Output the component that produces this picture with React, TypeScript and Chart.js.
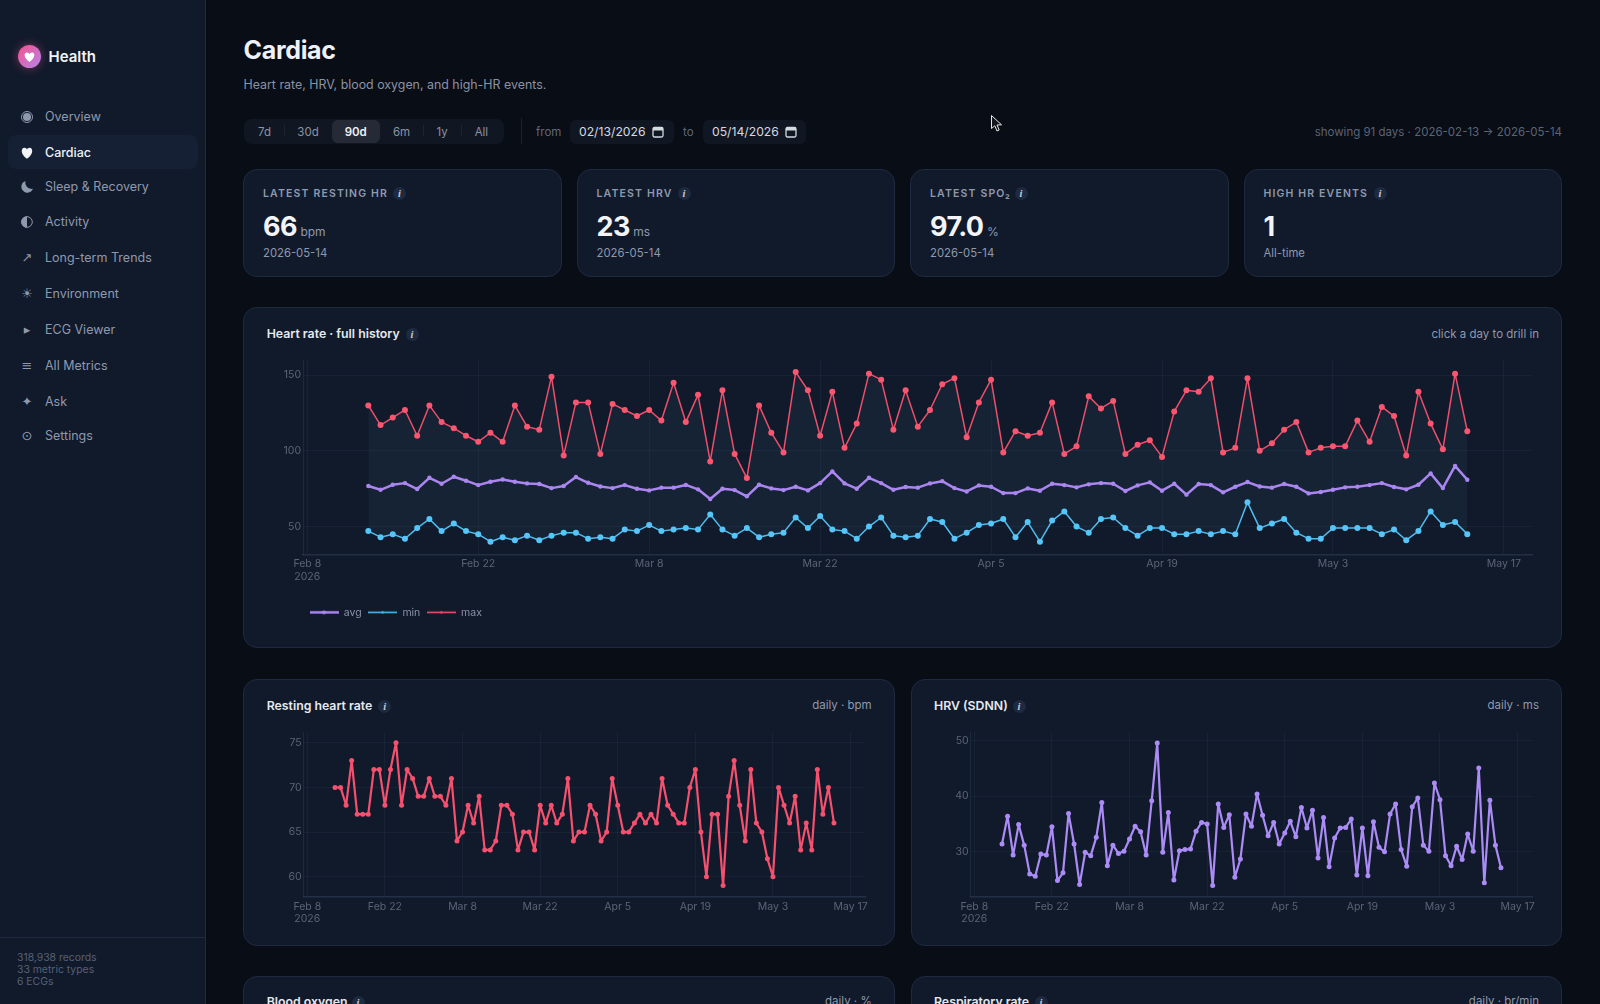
import React, { useEffect, useRef } from "react";
import { Chart, registerables } from "chart.js";

Chart.register(...registerables);

const font = "Inter, 'Noto Sans', sans-serif";

// days since Feb 8 2026, first sample is Feb 13
const firstDay = 5;
const tickDays = [0, 14, 28, 42, 56, 70, 84, 98];
const tickLabels: (string | string[])[] = ["Feb 8|2026", "Feb 22", "Mar 8", "Mar 22", "Apr 5", "Apr 19", "May 3", "May 17"].map(
  (t) => (t.includes("|") ? t.split("|") : t)
);

const hrAvg = [76.8, 74.3, 77.6, 78.7, 74.8, 82.2, 78.3, 82.9, 80.3, 77.4, 79.6, 81.1, 79.6, 78.5, 78.1, 75.4, 76.8, 82.7, 78.9, 76.5, 75.4, 77.4, 75, 73.9, 75.7, 75.7, 77.5, 74.6, 68.2, 75, 74.1, 70, 77.6, 75.2, 74.1, 76.3, 73.9, 78.7, 86.4, 78.5, 75, 82.2, 78.7, 74.3, 76.1, 75.7, 78.5, 80, 75.4, 73.2, 77.2, 76.3, 72.1, 72.1, 75.2, 73.7, 78.3, 77.4, 75.9, 77.9, 78.7, 78.3, 73.5, 77.2, 79.2, 73.7, 78.3, 71.1, 78.1, 77.4, 72.6, 76.3, 79.4, 76.5, 75.7, 78.1, 76.3, 71.9, 72.8, 74.3, 75.9, 76.3, 77.4, 78.7, 76.1, 74.6, 77.6, 85.1, 75.4, 90.1, 80.9];
const hrMin = [47, 43, 45, 42, 49, 55, 47, 52, 47, 45, 40, 43, 41, 44, 41, 44, 46, 46, 42, 43, 42, 48, 47, 51, 47, 48, 49, 48, 58, 48, 44, 49, 43, 45, 46, 56, 49, 57, 48, 47, 42, 50, 56, 44, 43, 44, 55, 53, 42, 46, 51, 52, 55, 43, 53, 40, 54, 60, 50, 46, 55, 56, 49, 44, 49, 49, 45, 45, 47, 45, 47, 45, 66, 49, 52, 55, 46, 42, 42, 49, 49, 49, 49, 45, 48, 41, 47, 60, 51, 53, 45];
const hrMax = [130, 117, 122, 127, 110, 130, 119, 115, 110, 106, 112, 106, 130, 116, 114, 149, 97, 132, 132, 98, 131, 127, 123, 127, 120, 145, 119, 137, 93, 140, 98, 82, 130, 112, 99, 152, 140, 110, 139, 102, 118, 151, 147, 114, 140, 116, 127, 144, 148, 109, 132, 147, 99, 113, 110, 112, 132, 98, 103, 136, 128, 133, 98, 104, 107, 96, 126, 140, 139, 148, 99, 102, 148, 100, 105, 114, 119, 99, 102, 103, 103, 120, 106, 129, 123, 97, 139, 118, 101, 151, 113];
const restingHr = [70, 70, 68, 73, 67, 67, 67, 72, 72, 68, 72, 75, 68, 72, 71, 69, 69, 71, 69, 69, 68, 71, 64, 65, 68, 66, 69, 63, 63, 64, 68, 68, 67, 63, 65, 65, 63, 68, 66, 68, 66, 67, 71, 64, 65, 65, 68, 67, 64, 65, 71, 68, 65, 65, 66, 67, 66, 67, 66, 71, 68, 67, 66, 66, 70, 72, 65, 60, 67, 67, 59, 69, 73, 68, 64, 72, 66, 65, 62, 60, 70, 68, 66, 69, 63, 66, 63, 72, 67, 70, 66];
const hrv = [31.4, 36.4, 29.4, 34.9, 31.2, 26, 25.6, 29.6, 29.4, 34.5, 24.8, 26.2, 36.9, 31.4, 24.1, 29.9, 29.3, 32.6, 38.9, 27.5, 31.2, 29.7, 30.1, 32.3, 34.6, 33.6, 29.4, 39.2, 49.6, 29.9, 37.1, 24.9, 30.2, 30.4, 30.5, 33.7, 35.3, 35, 23.9, 38.6, 34.4, 36.7, 25.4, 28.7, 36.8, 34.6, 40.4, 36.6, 32.9, 35.3, 31.4, 33.4, 35.5, 32.7, 38, 34.3, 37.5, 28.9, 36.2, 27.3, 32.5, 34.3, 34.4, 35.9, 25.8, 34.3, 25.7, 35.4, 30.8, 30, 36.8, 38.6, 30.4, 27.4, 38.1, 39.7, 31.2, 30.1, 42.4, 39.4, 29.3, 27.5, 31, 28.6, 33.2, 30.1, 45.1, 24.4, 39.3, 31.2, 27.1];

const navItems = [
  { glyph: "overview", label: "Overview", y: 117 },
  { glyph: "heart", label: "Cardiac", y: 152.5, active: true },
  { glyph: "moon", label: "Sleep & Recovery", y: 187 },
  { glyph: "half", label: "Activity", y: 222 },
  { glyph: "↗", label: "Long-term Trends", y: 258 },
  { glyph: "☀", label: "Environment", y: 293.5 },
  { glyph: "▸", label: "ECG Viewer", y: 329.5 },
  { glyph: "≡", label: "All Metrics", y: 366 },
  { glyph: "✦", label: "Ask", y: 401.5 },
  { glyph: "⊙", label: "Settings", y: 435.5 },
];
const rangeButtons = [
  { label: "7d", x: 264.5 },
  { label: "30d", x: 308 },
  { label: "90d", x: 355.7 },
  { label: "6m", x: 401.5 },
  { label: "1y", x: 442 },
  { label: "All", x: 481.4 },
];
const rangeSeparators = [284, 423, 460.7];
const statCards = [
  { label: "LATEST RESTING HR", value: "66", unit: "bpm", note: "2026-05-14" },
  { label: "LATEST HRV", value: "23", unit: "ms", note: "2026-05-14" },
  { label: "LATEST SPO₂", value: "97.0", unit: "%", note: "2026-05-14" },
  { label: "HIGH HR EVENTS", value: "1", unit: "", note: "All-time" },
];

const tickColor = "#5b6475";
const gridColor = "rgba(120,160,200,0.07)";
const axisColor = "#222f45";

function points(values: number[]) {
  return values.map((y, i) => ({ x: firstDay + i, y }));
}

function lineSwatch(color: string, width: number, dot: number) {
  const c = document.createElement("canvas");
  c.width = 29;
  c.height = 9;
  const ctx = c.getContext("2d")!;
  ctx.strokeStyle = color;
  ctx.lineWidth = width;
  ctx.beginPath();
  ctx.moveTo(0, 4.5);
  ctx.lineTo(29, 4.5);
  ctx.stroke();
  ctx.fillStyle = color;
  ctx.beginPath();
  ctx.arc(14.5, 4.5, dot, 0, Math.PI * 2);
  ctx.fill();
  return c;
}

function baseOptions(p: {
  xMin: number;
  xMax: number;
  yMin: number;
  yMax: number;
  yTicks: number[];
  yWidth: number;
  xHeight: number;
  xPad: number;
  padding: any;
}): any {
  return {
    responsive: false,
    animation: false,
    layout: { padding: p.padding },
    elements: { line: { borderJoinStyle: "round" } },
    plugins: { legend: { display: false }, tooltip: { enabled: false } },
    scales: {
      x: {
        type: "linear",
        min: p.xMin,
        max: p.xMax,
        afterBuildTicks: (s: any) => {
          s.ticks = tickDays.map((value) => ({ value }));
        },
        afterFit: (s: any) => {
          s.height = p.xHeight;
        },
        grid: { color: gridColor, drawTicks: false },
        border: { color: axisColor, width: 1.5 },
        ticks: {
          autoSkip: false,
          maxRotation: 0,
          padding: p.xPad,
          color: tickColor,
          font: { family: font, size: 10.5 },
          callback: (v: number) => tickLabels[tickDays.indexOf(v)],
        },
      },
      y: {
        min: p.yMin,
        max: p.yMax,
        afterBuildTicks: (s: any) => {
          s.ticks = p.yTicks.map((value) => ({ value }));
        },
        afterFit: (s: any) => {
          s.width = p.yWidth;
        },
        grid: { color: gridColor, drawTicks: false },
        border: { color: "rgba(120,160,200,0.12)" },
        ticks: { padding: 2, color: tickColor, font: { family: font, size: 10.5 } },
      },
    },
  };
}

function useChart(build: () => any) {
  const ref = useRef<HTMLCanvasElement | null>(null);
  useEffect(() => {
    if (!ref.current) return;
    const chart = new Chart(ref.current, build());
    return () => chart.destroy();
  }, []);
  return ref;
}

const HistoryChart = () => {
  const ref = useChart(() => {
    const options = baseOptions({
      xMin: -0.35,
      xMax: 100.3,
      yMin: 31.3,
      yMax: 160,
      yTicks: [50, 100, 150],
      yWidth: 53,
      xHeight: 45.7,
      xPad: 3,
      padding: { top: 10, right: 24, bottom: 7.4 },
    });
    const swatches = [lineSwatch("#ab86f0", 2.5, 2), lineSwatch("#4fbdf0", 1.6, 1.2), lineSwatch("#f0506c", 1.6, 1.2)];
    options.plugins.legend = {
      display: true,
      position: "bottom",
      align: "start",
      fullSize: false,
      labels: {
        usePointStyle: true,
        pointStyleWidth: 29,
        padding: 6.5,
        color: "#8a92a5",
        font: { family: font, size: 10.5 },
        generateLabels: (chart: any) =>
          Chart.defaults.plugins.legend.labels.generateLabels(chart).map((item: any, i: number) => ({
            ...item,
            pointStyle: swatches[i],
          })),
      },
    };
    return {
      type: "line",
      data: {
        datasets: [
          { label: "avg", data: points(hrAvg), borderColor: "#ab86f0", backgroundColor: "#ab86f0", borderWidth: 2.5, pointRadius: 2.2, pointBorderWidth: 0 },
          { label: "min", data: points(hrMin), borderColor: "#4fbdf0", backgroundColor: "#56c6fa", borderWidth: 1.5, pointRadius: 3, pointBorderWidth: 0 },
          {
            label: "max",
            data: points(hrMax),
            borderColor: "#ee4f6b",
            backgroundColor: "#fb5670",
            borderWidth: 1.5,
            pointRadius: 3,
            pointBorderWidth: 0,
            fill: { target: 1, above: "rgba(80,150,180,0.07)", below: "rgba(80,150,180,0.07)" },
          },
        ],
      },
      options,
    };
  });
  return <canvas ref={ref} width={1306} height={285} style={{ position: "absolute", left: 250, top: 350 }} />;
};

const DailyChart = (props: { values: number[]; color: string; left: number; yMin: number; yMax: number; yTicks: number[]; yWidth: number }) => {
  const { values, color, left, yMin, yMax, yTicks, yWidth } = props;
  const ref = useChart(() => ({
    type: "line",
    data: {
      datasets: [{ data: points(values), borderColor: color, backgroundColor: color, borderWidth: 2.2, pointRadius: 2.5, pointBorderWidth: 0 }],
    },
    options: baseOptions({
      xMin: -0.65,
      xMax: 100.6,
      yMin,
      yMax,
      yTicks,
      yWidth,
      xHeight: 40.3,
      xPad: 3.5,
      padding: { top: 10, right: 25 },
    }),
  }));
  return <canvas ref={ref} width={640} height={215} style={{ position: "absolute", left, top: 722 }} />;
};

const Txt = (props: { x: number; y: number; size: number; color: string; weight?: number; right?: boolean; center?: boolean; spacing?: number; children: React.ReactNode }) => {
  const { x, y, size, color, weight, right, center, spacing, children } = props;
  const tx = right ? "translate(-100%,-50%)" : center ? "translate(-50%,-50%)" : "translateY(-50%)";
  return (
    <div style={{ position: "absolute", left: x, top: y, transform: tx, fontSize: size, color, fontWeight: weight ?? 400, letterSpacing: spacing, whiteSpace: "nowrap", lineHeight: 1 }}>
      {children}
    </div>
  );
};

const Info = (props: { x: number; y: number; r?: number }) => {
  const r = props.r ?? 6.5;
  return (
    <div style={{ position: "absolute", left: props.x - r, top: props.y - r, width: r * 2, height: r * 2, borderRadius: "50%", background: "#1d2a40", color: "#c3cbd9", fontFamily: "'Liberation Serif', serif", fontStyle: "italic", fontWeight: 700, fontSize: 10.5, lineHeight: `${r * 2}px`, textAlign: "center" }}>
      i
    </div>
  );
};

const Box = (props: { x: number; y: number; w: number; h: number; radius?: number; bg?: string; border?: string; children?: React.ReactNode }) => (
  <div style={{ position: "absolute", left: props.x, top: props.y, width: props.w, height: props.h, boxSizing: "border-box", borderRadius: props.radius ?? 14, background: props.bg ?? "#111a2b", border: props.border ?? "1px solid #1e2a3f" }}>{props.children}</div>
);

const Calendar = (props: { x: number }) => (
  <svg width="12" height="12" viewBox="0 0 12 12" style={{ position: "absolute", left: props.x, top: 125.5 }}>
    <rect x="1" y="1.5" width="10" height="9.5" rx="1.5" fill="none" stroke="#d6d9e0" strokeWidth="1.3" />
    <rect x="1" y="1.5" width="10" height="3" fill="#d6d9e0" />
  </svg>
);

const NavIcon = (props: { glyph: string; y: number; color: string }) => {
  const { glyph, y, color } = props;
  const box: React.CSSProperties = { position: "absolute", left: 17, top: y - 10, width: 20, height: 20 };
  if (glyph === "overview")
    return (
      <svg viewBox="0 0 20 20" style={box}>
        <circle cx="10" cy="10" r="5.5" fill="none" stroke={color} strokeWidth="1" />
        <circle cx="10" cy="10" r="4" fill={color} />
      </svg>
    );
  if (glyph === "heart")
    return (
      <svg viewBox="0 0 20 20" style={box}>
        <path d="M10 15.8 C3 11 4 4.8 7.4 4.8 C8.8 4.8 9.6 5.7 10 6.5 C10.4 5.7 11.2 4.8 12.6 4.8 C16 4.8 17 11 10 15.8 Z" fill={color} />
      </svg>
    );
  if (glyph === "moon")
    return (
      <svg viewBox="0 0 20 20" style={box}>
        <path d="M8.5 4 A6 6 0 1 0 16 11.8 A6.5 6.5 0 0 1 8.5 4 Z" fill={color} />
      </svg>
    );
  if (glyph === "half")
    return (
      <svg viewBox="0 0 20 20" style={box}>
        <circle cx="10" cy="10" r="5.3" fill="none" stroke={color} strokeWidth="1" />
        <path d="M10 4.2 A5.8 5.8 0 0 0 10 15.8 Z" fill={color} />
      </svg>
    );
  return <div style={{ ...box, textAlign: "center", lineHeight: "20px", fontFamily: "'DejaVu Sans'", fontSize: 13, color }}>{glyph}</div>;
};

export default function App() {
  return (
    <div style={{ position: "fixed", left: 0, top: 0, width: 1600, height: 1004, overflow: "hidden", background: "#090d15", fontFamily: font }}>
      {/* sidebar */}
      <div style={{ position: "absolute", left: 0, top: 0, width: 206, height: 1004, boxSizing: "border-box", background: "#111a2b", borderRight: "1px solid #1e2a3f" }} />
      <div style={{ position: "absolute", left: 18, top: 44.5, width: 23, height: 23, borderRadius: "50%", background: "linear-gradient(135deg,#f5508a,#b586ee)", boxShadow: "0 0 10px rgba(240,90,150,0.45)" }}>
        <svg width="23" height="23" viewBox="0 0 23 23">
          <path d="M11.5 17 C5 12.5 6 7.5 9 7.5 C10.3 7.5 11 8.3 11.5 9.2 C12 8.3 12.7 7.5 14 7.5 C17 7.5 18 12.5 11.5 17 Z" fill="#fff" />
        </svg>
      </div>
      <Txt x={48.5} y={56} size={15} weight={600} color="#f2f4f8">Health</Txt>
      <div style={{ position: "absolute", left: 7.5, top: 135, width: 190, height: 33.5, borderRadius: 8, background: "#162034" }} />
      {navItems.map((n) => (
        <React.Fragment key={n.label}>
          <NavIcon glyph={n.glyph} y={n.y} color={n.active ? "#f2f4f8" : "#8f99ad"} />
          <Txt x={45} y={n.y} size={12.5} weight={n.active ? 500 : 400} color={n.active ? "#eef1f6" : "#8f99ad"}>{n.label}</Txt>
        </React.Fragment>
      ))}
      <div style={{ position: "absolute", left: 0, top: 936.5, width: 205, height: 1, background: "#1e2a3f" }} />
      <Txt x={17} y={957.5} size={10.4} color="#566074">318,938 records</Txt>
      <Txt x={17} y={969.5} size={10.4} color="#566074">33 metric types</Txt>
      <Txt x={17} y={981.5} size={10.4} color="#566074">6 ECGs</Txt>

      {/* header */}
      <Txt x={243.5} y={50} size={25} weight={700} color="#eef1f6" spacing={-0.3}>Cardiac</Txt>
      <Txt x={243.5} y={85} size={12.4} color="#8a92a5">Heart rate, HRV, blood oxygen, and high-HR events.</Txt>

      {/* toolbar */}
      <Box x={243.5} y={118.5} w={260} h={25.5} radius={8} bg="#111722" border="none" />
      <Box x={332} y={120} w={48} h={22.7} radius={6} bg="#252a36" border="none" />
      {rangeSeparators.map((x) => (
        <div key={x} style={{ position: "absolute", left: x, top: 125, width: 1, height: 11, background: "#1d2430" }} />
      ))}
      {rangeButtons.map((b) => (
        <Txt key={b.label} x={b.x} y={132.5} size={11.5} center weight={b.label === "90d" ? 600 : 400} color={b.label === "90d" ? "#eef1f6" : "#8a92a5"}>{b.label}</Txt>
      ))}
      <div style={{ position: "absolute", left: 520.7, top: 118, width: 1, height: 26, background: "#1a2130" }} />
      <Txt x={536} y={132.5} size={11.5} color="#5f6879">from</Txt>
      <Box x={570} y={120} w={103.5} h={23.5} radius={6} bg="#111722" border="none" />
      <Txt x={579} y={132} size={12.2} color="#d6d9e0">02/13/2026</Txt>
      <Calendar x={652} />
      <Txt x={683} y={132.5} size={11.5} color="#5f6879">to</Txt>
      <Box x={703} y={120} w={103} h={23.5} radius={6} bg="#111722" border="none" />
      <Txt x={712} y={132} size={12.2} color="#d6d9e0">05/14/2026</Txt>
      <Calendar x={785} />
      <Txt x={1562} y={132.5} size={11.5} right color="#5b6475">showing 91 days · 2026-02-13 → 2026-05-14</Txt>

      {/* pointer captured in the screenshot */}
      <svg width="14" height="20" viewBox="0 0 14 20" style={{ position: "absolute", left: 990, top: 114 }}>
        <path d="M1.5 1.5 L1.5 14.5 L4.8 11.8 L7 17 L9.2 16 L7 11 L11.5 10.8 Z" fill="#14181f" stroke="#e8e8e8" strokeWidth="1" />
      </svg>

      {/* stat cards */}
      {statCards.map((c, i) => {
        const x = 243 + i * 333.5;
        return (
          <React.Fragment key={c.label}>
            <Box x={x} y={169} w={318.5} h={107.7} />
            <Txt x={x + 20} y={193.5} size={10.5} weight={600} spacing={1.15} color="#8f99ad">{c.label}</Txt>
            <Txt x={x + 20} y={226} size={27} weight={700} spacing={-0.6} color="#f2f4f8">
              {c.value}
              {c.unit && <span style={{ fontSize: 12, fontWeight: 400, color: "#8f99ad", marginLeft: 3.5, letterSpacing: 0 }}>{c.unit}</span>}
            </Txt>
            <Txt x={x + 20} y={254} size={11.3} color="#8f99ad">{c.note}</Txt>
          </React.Fragment>
        );
      })}
      <Info x={399.5} y={193.5} />
      <Info x={684} y={193.5} />
      <Info x={1021} y={193.5} />
      <Info x={1380} y={193.5} />

      {/* history */}
      <Box x={243} y={307} w={1319} h={341} />
      <Txt x={266.7} y={334} size={12.3} weight={600} color="#e6e9ef">Heart rate · full history</Txt>
      <Info x={412} y={334.5} />
      <Txt x={1539} y={334.5} size={11.5} right color="#8f99ad">click a day to drill in</Txt>
      <HistoryChart />

      {/* daily charts */}
      <Box x={243} y={679} w={652} h={266.5} />
      <Box x={911} y={679} w={651} h={266.5} />
      <Txt x={266.7} y={706} size={12.3} weight={600} color="#e6e9ef">Resting heart rate</Txt>
      <Info x={384.7} y={706.5} />
      <Txt x={871.7} y={706} size={11.5} right color="#8f99ad">daily · bpm</Txt>
      <Txt x={934} y={706} size={12.3} weight={600} color="#e6e9ef">HRV (SDNN)</Txt>
      <Info x={1019} y={706.5} />
      <Txt x={1539} y={706} size={11.5} right color="#8f99ad">daily · ms</Txt>
      <DailyChart values={restingHr} color="#f5506e" left={250} yMin={57.76} yMax={76.2} yTicks={[60, 65, 70, 75]} yWidth={53.7} />
      <DailyChart values={hrv} color="#ab8bf5" left={917} yMin={21.9} yMax={51.6} yTicks={[30, 40, 50]} yWidth={53.7} />

      {/* next row, cut off by the window */}
      <Box x={243} y={976} w={652} h={120} />
      <Box x={911} y={976} w={651} h={120} />
      <Txt x={266.7} y={1002} size={12.3} weight={600} color="#e6e9ef">Blood oxygen</Txt>
      <Info x={358} y={1002} />
      <Txt x={871.7} y={1002} size={11.5} right color="#8f99ad">daily · %</Txt>
      <Txt x={934} y={1002} size={12.3} weight={600} color="#e6e9ef">Respiratory rate</Txt>
      <Info x={1041} y={1002} />
      <Txt x={1539} y={1002} size={11.5} right color="#8f99ad">daily · br/min</Txt>
    </div>
  );
}
